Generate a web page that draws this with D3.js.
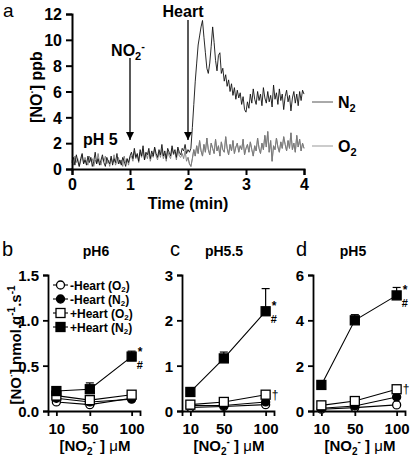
<!DOCTYPE html>
<html><head><meta charset="utf-8">
<script src="https://cdn.jsdelivr.net/npm/d3@7"></script>
<style>
body{margin:0;background:#fff;}
svg text{font-family:"Liberation Sans",Arial,sans-serif;}
</style></head>
<body><svg id="c" width="410" height="460"></svg>
<script>
// ---------- Panel a data ----------
const sampleStep = 0.025; // min between samples
const traceN2 = [
0.5,0.9,0.3,1.1,0.6,0.2,0.8,1.2,0.4,0.7,0.3,1.0,0.5,0.9,0.2,0.6,1.3,0.4,0.8,0.3,0.7,1.1,0.5,0.2,0.9,0.6,0.4,1.0,0.3,0.8,0.5,1.2,0.4,0.7,0.3,0.9,0.6,0.2,0.8,0.5,1.0,
1.3,0.8,1.6,0.9,1.2,0.6,1.5,1.0,1.8,0.7,1.3,1.1,1.6,0.8,1.4,1.0,1.7,1.2,0.9,1.5,1.1,1.9,1.0,1.4,0.8,1.6,1.3,1.0,1.8,1.2,1.5,0.9,1.7,1.3,1.1,1.6,1.4,1.9,1.2,1.5,
1.3,1.6,3.2,5.0,6.8,8.2,9.6,10.3,11.0,11.5,10.2,9.0,7.8,7.4,8.2,9.5,11.0,9.8,8.4,7.6,8.8,9.0,7.4,7.8,6.8,7.3,6.4,6.9,6.0,6.6,5.7,6.3,5.4,6.1,5.5,5.9,5.0,5.6,4.6,4.4,
5.2,4.7,5.8,5.1,6.2,5.4,5.0,6.0,5.3,5.8,4.9,6.3,5.5,5.1,6.0,5.2,5.7,4.8,6.5,5.4,5.9,5.0,6.2,5.3,5.8,4.6,5.6,6.1,5.2,5.7,4.5,5.5,6.0,5.1,5.8,4.9,6.0,5.3,6.1,5.8
];
const traceO2 = [
0.7,0.3,1.0,0.5,0.8,0.2,0.6,1.1,0.4,0.9,0.5,0.3,1.0,0.6,0.8,0.2,0.7,0.4,1.2,0.5,0.3,0.9,0.6,1.0,0.4,0.7,0.2,0.8,0.5,1.1,0.3,0.6,0.9,0.4,0.7,0.2,1.0,0.5,0.8,0.3,0.9,
1.0,0.6,1.4,0.8,1.1,0.5,1.3,0.9,1.5,0.7,1.2,0.8,1.4,0.6,1.1,0.9,1.6,1.0,0.7,1.3,0.9,1.5,0.8,1.2,0.6,1.4,1.0,0.8,1.6,1.1,1.3,0.7,1.5,1.0,0.9,1.2,0.8,1.4,0.6,0.9,
0.4,0.2,0.8,1.5,1.0,1.8,1.2,2.2,1.4,1.0,1.9,1.3,2.4,1.5,1.1,2.0,1.6,1.2,2.3,1.4,1.8,1.0,2.1,1.5,1.3,2.5,1.6,1.1,1.9,1.4,2.2,1.2,1.7,2.0,1.3,1.8,1.5,2.3,1.1,1.6,
1.9,1.3,2.1,1.5,1.0,1.8,1.4,2.4,1.6,1.2,2.0,1.5,2.6,1.7,2.9,1.3,2.2,0.6,1.8,1.5,2.4,1.7,1.3,2.1,1.6,2.5,1.9,1.4,2.2,1.6,2.8,1.5,2.0,1.3,2.6,1.7,2.3,1.4,2.0,1.6
];
const timeTicks = [0,1,2,3,4];
const ppbTicks = [0,2,4,6,8,10,12];
const arrowTimes = [1,2]; // NO2- addition, Heart addition

// ---------- Panels b-d data ----------
const nitrite = [10,50,100];
const seriesNames = ["-Heart (O2)","-Heart (N2)","+Heart (O2)","+Heart (N2)"];
const pH6   = {hO2:[0.10,0.07,0.14], hN2:[0.14,0.10,0.13], pO2:[0.17,0.12,0.18], pN2:[0.22,0.24,0.60], pN2err:[0.03,0.07,0.06]};
const pH55  = {hO2:[0.08,0.10,0.14], hN2:[0.12,0.12,0.20], pO2:[0.14,0.20,0.36], pN2:[0.42,1.16,2.20], pN2err:[0.03,0.14,0.50]};
const pH5   = {hO2:[0.08,0.15,0.27], hN2:[0.12,0.22,0.62], pO2:[0.25,0.44,0.96], pN2:[1.15,4.00,5.10], pN2err:[0.12,0.25,0.35]};
const yMax  = [1.5, 3, 6];
const yTicksB = [0.0,0.5,1.0,1.5];
const yTicksC = [0,1,2,3];
const yTicksD = [0,2,4,6];

const svg = d3.select("#c");
const F = '"Liberation Sans",Arial,sans-serif';

// ================= Panel a =================
const ax = d3.scaleLinear().domain([0,4]).range([72,304]);
const ay = d3.scaleLinear().domain([0,12]).range([169,14]);
const ga = svg.append("g");
const line = d3.line().x((d,i)=>ax(i*sampleStep)).y(d=>ay(d));
ga.append("path").datum(traceO2).attr("d",line).attr("fill","none").attr("stroke","#7a7a7a").attr("stroke-width",0.9);
ga.append("path").datum(traceN2).attr("d",line).attr("fill","none").attr("stroke","#111").attr("stroke-width",0.9);
ga.append("path").datum(traceO2.slice(80)).attr("d",d3.line().x((d,i)=>ax((i+80)*sampleStep)).y(d=>ay(d)))
  .attr("fill","none").attr("stroke","#7a7a7a").attr("stroke-width",0.9);

const xa = ga.append("g").attr("transform","translate(0,169)")
  .call(d3.axisBottom(ax).tickValues(timeTicks).tickSize(6).tickFormat(d3.format("d")));
const ya = ga.append("g").attr("transform","translate(72,0)")
  .call(d3.axisLeft(ay).tickValues(ppbTicks).tickSize(6).tickFormat(d3.format("d")));
[xa,ya].forEach(g=>{
  g.selectAll(".domain").attr("stroke","#000").attr("stroke-width",2);
  g.selectAll(".tick line").attr("stroke","#000").attr("stroke-width",2);
  g.selectAll("text").attr("font-family",F).attr("font-weight","bold").attr("font-size",16).attr("fill","#000");
});
xa.selectAll("text").attr("dy","0.72em");
ya.selectAll("text").attr("dx","-1px").attr("dy","0.36em");

ga.append("text").attr("x",ax(2)).attr("y",209).attr("text-anchor","middle")
  .attr("font-weight","bold").attr("font-size",16).text("Time (min)");
ga.append("text").attr("transform","translate(42,87) rotate(-90)").attr("text-anchor","middle")
  .attr("font-weight","bold").attr("font-size",16)
  .html('[NO<tspan dy="-6" font-size="10">·</tspan><tspan dy="6">] ppb</tspan>');
ga.append("text").attr("x",3).attr("y",17).attr("font-size",19).text("a");

// arrows
const defs = svg.append("defs");
defs.append("marker").attr("id","ah").attr("viewBox","0 0 10 10").attr("refX",10).attr("refY",5)
  .attr("markerWidth",8).attr("markerHeight",9).attr("markerUnits","userSpaceOnUse").attr("orient","auto")
  .append("path").attr("d","M0,0 L10,5 L0,10 z").attr("fill","#000");
const arrowTops = [58,20];
arrowTimes.forEach((t,i)=>{
  ga.append("line").attr("x1",ax(t)).attr("x2",ax(t)).attr("y1",arrowTops[i]).attr("y2",140)
    .attr("stroke","#000").attr("stroke-width",1.3).attr("marker-end","url(#ah)");
});
ga.append("text").attr("x",ax(1)-2).attr("y",56).attr("text-anchor","middle").attr("font-weight","bold").attr("font-size",16)
  .html('NO<tspan dy="4" font-size="11">2</tspan><tspan dy="-10" font-size="11">-</tspan>');
ga.append("text").attr("x",183).attr("y",17).attr("text-anchor","middle").attr("font-weight","bold").attr("font-size",16).text("Heart");
ga.append("text").attr("x",83).attr("y",145).attr("font-weight","bold").attr("font-size",16).text("pH 5");
// trace labels
[[102,"N","#555"],[146,"O","#999"]].forEach(([y,l,c])=>{
  ga.append("line").attr("x1",312).attr("x2",333).attr("y1",y).attr("y2",y).attr("stroke",c).attr("stroke-width",1);
  ga.append("text").attr("x",338).attr("y",y+6).attr("font-weight","bold").attr("font-size",16)
    .html(l+'<tspan dy="4" font-size="11">2</tspan>');
});

// ================= Panels b-d =================
const panels = [
  {data:pH6, ymax:yMax[0], ticks:yTicksB, fmt:d3.format(".1f"), axisX:48, letter:"b", title:"pH6", letterX:2, titleX:96, dag:false},
  {data:pH55,ymax:yMax[1], ticks:yTicksC, fmt:d3.format("d"),   axisX:182,letter:"c", title:"pH5.5", letterX:170, titleX:224, dag:true},
  {data:pH5, ymax:yMax[2], ticks:yTicksD, fmt:d3.format("d"),   axisX:313,letter:"d", title:"pH5", letterX:296, titleX:353, dag:true}
];
const seriesKeys = ["hO2","hN2","pO2","pN2"];
const seriesStyle = {
  hO2:{shape:"circle", fill:"#fff"},
  hN2:{shape:"circle", fill:"#000"},
  pO2:{shape:"square", fill:"#fff"},
  pN2:{shape:"square", fill:"#000"}
};
function drawMarker(g,x,y,key){
  const s = seriesStyle[key];
  if(s.shape==="circle"){
    g.append("circle").attr("cx",x).attr("cy",y).attr("r",4).attr("fill",s.fill).attr("stroke","#000").attr("stroke-width",1.3);
  } else {
    g.append("rect").attr("x",x-4.5).attr("y",y-4.5).attr("width",9).attr("height",9).attr("fill",s.fill).attr("stroke","#000").attr("stroke-width",1.3);
  }
}
panels.forEach(p=>{
  const g = svg.append("g");
  const x = d3.scaleLinear().domain([0,110]).range([p.axisX,p.axisX+92]);
  const y = d3.scaleLinear().domain([0,p.ymax]).range([411,275]);
  const gx = g.append("g").attr("transform","translate(0,411)")
    .call(d3.axisBottom(x).tickValues(nitrite).tickSize(5).tickFormat(d3.format("d")));
  const gy = g.append("g").attr("transform",`translate(${p.axisX},0)`)
    .call(d3.axisLeft(y).tickValues(p.ticks).tickSize(5).tickFormat(p.fmt));
  [gx,gy].forEach(a=>{
    a.selectAll(".domain").attr("stroke","#000").attr("stroke-width",1.8);
    a.selectAll(".tick line").attr("stroke","#000").attr("stroke-width",1.8);
    a.selectAll("text").attr("font-family",F).attr("font-weight","bold").attr("font-size",15).attr("fill","#000");
  });
  gx.selectAll("text").attr("dy","1em");
  gy.selectAll("text").attr("dy","0.36em").attr("dx","-1px");
  // error bars (upward)
  p.data.pN2.forEach((v,i)=>{
    const e = p.data.pN2err[i];
    const xx = x(nitrite[i]);
    g.append("line").attr("x1",xx).attr("x2",xx).attr("y1",y(v)).attr("y2",y(v+e)).attr("stroke","#000").attr("stroke-width",1.2);
    g.append("line").attr("x1",xx-4).attr("x2",xx+4).attr("y1",y(v+e)).attr("y2",y(v+e)).attr("stroke","#000").attr("stroke-width",1.2);
  });
  const ln = d3.line().x((d,i)=>x(nitrite[i])).y(d=>y(d));
  seriesKeys.forEach(k=>{
    g.append("path").datum(p.data[k]).attr("d",ln).attr("fill","none").attr("stroke","#000").attr("stroke-width",1.1);
  });
  seriesKeys.forEach(k=>{
    p.data[k].forEach((v,i)=>drawMarker(g,x(nitrite[i]),y(v),k));
  });
  // significance marks
  const sy = y(p.data.pN2[2]);
  g.append("text").attr("x",x(100)+6).attr("y",sy-1).attr("font-weight","bold").attr("font-size",12).text("*");
  g.append("text").attr("x",x(100)+5).attr("y",sy+12).attr("font-weight","bold").attr("font-size",11).text("#");
  if(p.dag){
    g.append("text").attr("x",x(100)+6).attr("y",y(p.data.pO2[2])+4).attr("font-family","DejaVu Sans")
      .attr("font-size",12).attr("fill","#000").text("\u2020");
  }
  // titles
  g.append("text").attr("x",p.letterX).attr("y",256).attr("font-size",20).text(p.letter);
  g.append("text").attr("x",p.titleX).attr("y",256).attr("text-anchor","middle").attr("font-weight","bold").attr("font-size",14).text(p.title);
  g.append("text").attr("x",p.axisX+47).attr("y",451).attr("text-anchor","middle").attr("font-weight","bold").attr("font-size",15)
    .html('[NO<tspan dy="4" font-size="10">2</tspan><tspan dy="-10" font-size="10">-</tspan><tspan dy="6"> ] </tspan><tspan font-weight="normal">μ</tspan>M');
});

// y label panel b
svg.append("text").attr("transform","translate(21,345) rotate(-90)").attr("text-anchor","middle")
  .attr("font-weight","bold").attr("font-size",15)
  .html('[NO<tspan dy="-6" font-size="9">·</tspan><tspan dy="6">] nmol.g</tspan><tspan dy="-6" font-size="10">-1</tspan><tspan dy="6">.s</tspan><tspan dy="-6" font-size="10">-1</tspan>');

// legend panel b
const legY = [285,299,313,327];
const legG = svg.append("g");
seriesKeys.forEach((k,i)=>{
  legG.append("line").attr("x1",53).attr("x2",68).attr("y1",legY[i]).attr("y2",legY[i]).attr("stroke","#000").attr("stroke-width",1.1);
  drawMarker(legG,60.5,legY[i],k);
  const nm = seriesNames[i];
  legG.append("text").attr("x",70).attr("y",legY[i]+4.5).attr("font-weight","bold").attr("font-size",12)
    .html(nm.slice(0,-2)+'<tspan dy="2" font-size="8">2</tspan><tspan dy="-2">)</tspan>');
});
</script></body></html>
